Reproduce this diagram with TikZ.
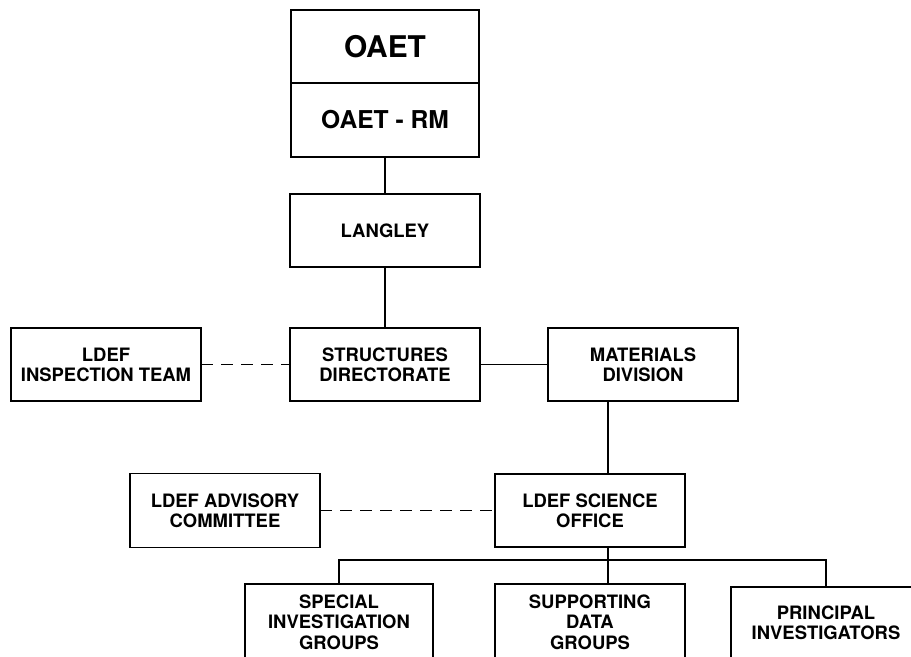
\documentclass[tikz,border=0pt]{standalone}
\usepackage{fontspec}
\setmainfont{TeX Gyre Heros}
\usetikzlibrary{positioning,calc}

\begin{document}
\begin{tikzpicture}[
  node distance=0.74cm,
  block/.style={draw=black,line width=1.1pt,outer sep=0pt,minimum width=3.8cm,minimum height=1.46cm,align=center,inner sep=0pt,font=\bfseries\fontsize{10.5}{11.5}\selectfont},
  group/.style={block,minimum height=1.7cm},
  link/.style={line width=1.1pt},
  liaison/.style={line width=1.1pt,dash pattern=on 0.24cm off 0.16cm}
]
\clip (0,0) rectangle (18.22,-13.12);
% headquarters
\node[block,minimum width=3.76cm,font=\bfseries\fontsize{17}{20}\selectfont] (oaet) at (7.70,-0.93) {OAET};
\node[block,minimum width=3.76cm,minimum height=1.48cm,font=\bfseries\fontsize{14}{16}\selectfont,below=0pt of oaet] (rm) {OAET - RM};
\node[block,below=of rm] (langley) {LANGLEY};
\node[block,below=1.22cm of langley] (struct) {STRUCTURES\\DIRECTORATE};
\node[block,left=1.78cm of struct] (inspect) {LDEF\\INSPECTION TEAM};
\node[block,right=1.36cm of struct] (materials) {MATERIALS\\DIVISION};
\node[block,below=1.46cm of materials,xshift=-1.06cm] (science) {LDEF SCIENCE\\OFFICE};
\node[block,minimum height=1.48cm,left=3.5cm of science] (advisory) {LDEF ADVISORY\\COMMITTEE};
% working groups (cut off at the bottom)
\node[group,text depth=0.18cm,below=of science] (support) {SUPPORTING\\DATA\\GROUPS};
\node[group,text depth=0.18cm,minimum width=3.76cm,left=1.24cm of support] (special) {SPECIAL\\INVESTIGATION\\GROUPS};
\node[group,text depth=0.28cm,right=0.92cm of support,yshift=-0.06cm] (principal) {PRINCIPAL\\INVESTIGATORS};
\coordinate (spine) at ($(science.north)+(0.36cm,0)$);
\coordinate (bus) at ($(science.south)+(0.36cm,-0.26cm)$);
\draw[link] (rm) -- (langley);
\draw[link] (langley) -- (struct);
\draw[liaison] (inspect) -- (struct);
\draw[link] (struct) -- (materials);
\draw[link] (materials.south -| spine) -- (spine);
\draw[liaison] (advisory) -- (science);
\draw[link] (science.south -| bus) -- (bus);
\draw[link] (special.north) |- (bus) -| (principal.north);
\draw[link] (bus) -- (support.north -| bus);
\end{tikzpicture}
\end{document}
